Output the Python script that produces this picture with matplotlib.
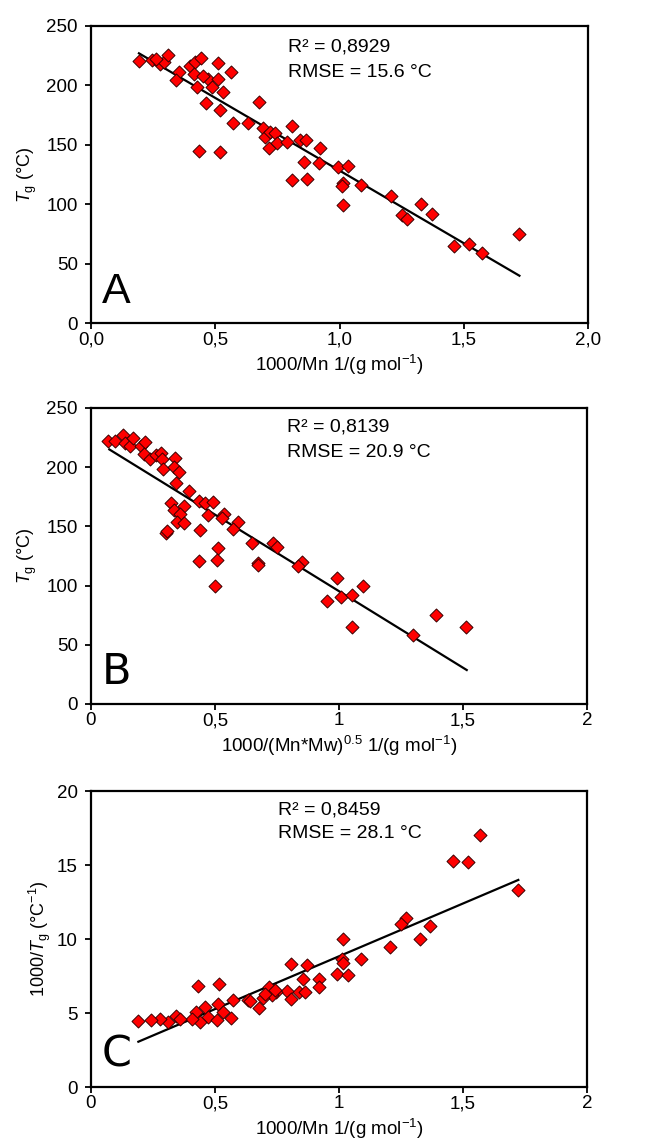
import numpy as np
import matplotlib
matplotlib.use("Agg")
from matplotlib import pyplot as plt

plt.rcParams['font.family'] = ['Liberation Sans', 'DejaVu Sans']
plt.rcParams['mathtext.fontset'] = 'custom'
plt.rcParams['mathtext.rm'] = 'Liberation Sans'
plt.rcParams['mathtext.it'] = 'Liberation Sans:italic'

# Panel A: 1000/Mn vs Tg
a_x = [0.193, 0.244, 0.278, 0.294, 0.311, 0.354, 0.342, 0.398, 0.418, 0.441,
       0.414, 0.425, 0.469, 0.486, 0.510, 0.512, 0.532, 0.563, 0.461, 0.519,
       0.675, 0.573, 0.630, 0.693, 0.700, 0.720, 0.740, 0.718, 0.747, 0.790,
       0.808, 0.841, 0.865, 0.922, 0.857, 0.918, 0.995, 1.036, 0.435, 0.519,
       0.808, 0.871, 1.015, 1.011, 1.087, 1.207, 1.015, 1.250, 1.270, 1.328,
       1.371, 1.461, 1.523, 1.572, 1.724, 0.260, 0.450]
a_y = [220.8, 221.0, 218.0, 219.4, 225.6, 211.0, 204.5, 216.0, 219.7, 222.8,
       209.6, 198.4, 205.7, 198.4, 218.6, 205.7, 194.7, 211.3, 184.9, 179.3,
       186.3, 168.6, 168.6, 163.9, 156.8, 161.0, 159.7, 147.6, 151.8, 152.6,
       165.8, 154.0, 154.0, 147.0, 135.5, 134.4, 131.6, 132.4, 145.0, 143.7,
       120.4, 121.0, 118.0, 115.0, 115.9, 106.9, 99.3, 90.9, 87.3, 99.9,
       91.5, 64.8, 66.2, 58.7, 74.9, 222.0, 208.0]
a_fit_x = [0.193, 1.724]
a_fit_y = [227.0, 39.8]

# Panel B: 1000/(Mn*Mw)^0.5 vs Tg
b_x = [0.070, 0.097, 0.130, 0.137, 0.157, 0.171, 0.200, 0.218, 0.214, 0.238,
       0.262, 0.282, 0.285, 0.289, 0.339, 0.336, 0.355, 0.343, 0.395, 0.437,
       0.460, 0.493, 0.473, 0.536, 0.527, 0.591, 0.574, 0.321, 0.336, 0.375,
       0.359, 0.345, 0.375, 0.302, 0.307, 0.440, 0.648, 0.733, 0.751, 0.513,
       0.507, 0.437, 0.675, 0.849, 0.836, 0.673, 0.500, 0.991, 1.098, 0.950,
       1.008, 1.051, 1.054, 1.297, 1.391, 1.512]
b_y = [222.0, 222.4, 227.2, 220.1, 217.9, 224.4, 217.9, 221.5, 211.1, 206.7,
       210.3, 212.3, 206.7, 198.8, 207.5, 200.5, 196.2, 186.4, 180.2, 171.7,
       170.0, 170.6, 159.6, 160.5, 156.8, 154.0, 147.5, 170.0, 163.9, 167.2,
       160.5, 154.0, 152.6, 144.8, 146.0, 147.0, 135.7, 136.2, 132.3, 131.5,
       121.6, 121.0, 118.8, 120.2, 116.6, 117.4, 99.7, 106.1, 99.7, 87.0,
       90.6, 92.1, 64.8, 58.3, 75.2, 65.3]
b_fit_x = [0.074, 1.515]
b_fit_y = [215.0, 28.7]

# Panel C: 1000/Mn vs 1000/Tg
c_x = [1.569, 1.461, 1.519, 1.723, 1.270, 1.250, 1.367, 1.015, 1.327, 1.206,
       1.089, 1.011, 1.015, 0.991, 1.035, 0.805, 0.870, 0.856, 0.919, 0.919,
       0.840, 0.863, 0.789, 0.805, 0.746, 0.719, 0.728, 0.692, 0.677, 0.632,
       0.640, 0.571, 0.433, 0.517, 0.513, 0.460, 0.423, 0.531, 0.470, 0.507,
       0.565, 0.440, 0.406, 0.343, 0.312, 0.278, 0.242, 0.191, 0.360, 0.700,
       0.740]
c_y = [17.0, 15.3, 15.2, 13.3, 11.4, 11.0, 10.9, 10.0, 10.0, 9.44,
       8.63, 8.63, 8.36, 7.61, 7.57, 8.29, 8.24, 7.30, 7.30, 6.74,
       6.44, 6.44, 6.49, 5.92, 6.44, 6.74, 6.22, 6.04, 5.31, 5.88,
       5.80, 5.88, 6.82, 6.94, 5.61, 5.38, 5.09, 5.09, 4.71, 4.53,
       4.68, 4.41, 4.57, 4.80, 4.41, 4.57, 4.53, 4.48, 4.60, 6.30,
       6.55]
c_fit_x = [0.191, 1.723]
c_fit_y = [3.06, 13.99]

stats = {
    'A': ['R² = 0,8929', 'RMSE = 15.6 °C'],
    'B': ['R² = 0,8139', 'RMSE = 20.9 °C'],
    'C': ['R² = 0,8459', 'RMSE = 28.1 °C'],
}

W, H = 649, 1146
fig = plt.figure(figsize=(W / 100, H / 100), dpi=100)

# (left, top, right, bottom) in pixels
boxes = [(91, 26, 588, 323), (91, 408, 587, 704), (91, 791, 587, 1087)]
axes = []
for l, t, r, b in boxes:
    axes.append(fig.add_axes([l / W, 1 - b / H, (r - l) / W, (b - t) / H]))

panels = [
    (a_x, a_y, a_fit_x, a_fit_y, 'A'),
    (b_x, b_y, b_fit_x, b_fit_y, 'B'),
    (c_x, c_y, c_fit_x, c_fit_y, 'C'),
]
text_x = [0.396, 0.396, 0.378]
text_y = [(0.929, 0.845), (0.936, 0.851), (0.936, 0.858)]

for i, (ax, (x, y, fx, fy, tag)) in enumerate(zip(axes, panels)):
    ax.plot(fx, fy, color='black', lw=1.6, zorder=2)
    ax.scatter(x, y, marker='D', s=44, color='#ff0000', edgecolors='#3a0000',
               linewidths=0.7, zorder=3)
    ax.set_xlim(0, 2)
    for sp in ax.spines.values():
        sp.set_linewidth(1.6)
    ax.tick_params(direction='out', length=4.5, width=1.3)
    ax.tick_params(axis='x', pad=1.5, labelsize=13.5)
    ax.tick_params(axis='y', pad=5, labelsize=13.5)
    ax.text(text_x[i], text_y[i][0], stats[tag][0], transform=ax.transAxes,
            fontsize=14, va='center', ha='left')
    ax.text(text_x[i], text_y[i][1], stats[tag][1], transform=ax.transAxes,
            fontsize=14, va='center', ha='left')
    fam = ['Liberation Sans'] if tag == 'A' else ['DejaVu Sans']
    ax.text(0.022, 0.068, tag, transform=ax.transAxes, fontsize=31,
            va='baseline', ha='left', family=fam)

ax = axes[0]
ax.set_ylim(0, 250)
ax.set_yticks(np.arange(0, 251, 50))
ax.set_xticks([0, 0.5, 1.0, 1.5, 2.0])
ax.set_xticklabels(['0,0', '0,5', '1,0', '1,5', '2,0'])
ax.set_xlabel('1000/Mn 1/(g mol$^{-1}$)', fontsize=13.5, labelpad=3)
ax.set_ylabel('$T_{\\mathrm{g}}$ (°C)', fontsize=13, labelpad=5)

ax = axes[1]
ax.set_ylim(0, 250)
ax.set_yticks(np.arange(0, 251, 50))
ax.set_xticks([0, 0.5, 1.0, 1.5, 2.0])
ax.set_xticklabels(['0', '0,5', '1', '1,5', '2'])
ax.set_xlabel('1000/(Mn*Mw)$^{0.5}$ 1/(g mol$^{-1}$)', fontsize=13.5, labelpad=3)
ax.set_ylabel('$T_{\\mathrm{g}}$ (°C)', fontsize=13, labelpad=5)

ax = axes[2]
ax.set_ylim(0, 20)
ax.set_yticks(np.arange(0, 21, 5))
ax.set_xticks([0, 0.5, 1.0, 1.5, 2.0])
ax.set_xticklabels(['0', '0,5', '1', '1,5', '2'])
ax.set_xlabel('1000/Mn 1/(g mol$^{-1}$)', fontsize=13.5, labelpad=3)
ax.set_ylabel('1000/$T_{\\mathrm{g}}$ (°C$^{-1}$)', fontsize=13, labelpad=3)

fig.savefig('out.png', dpi=100)
